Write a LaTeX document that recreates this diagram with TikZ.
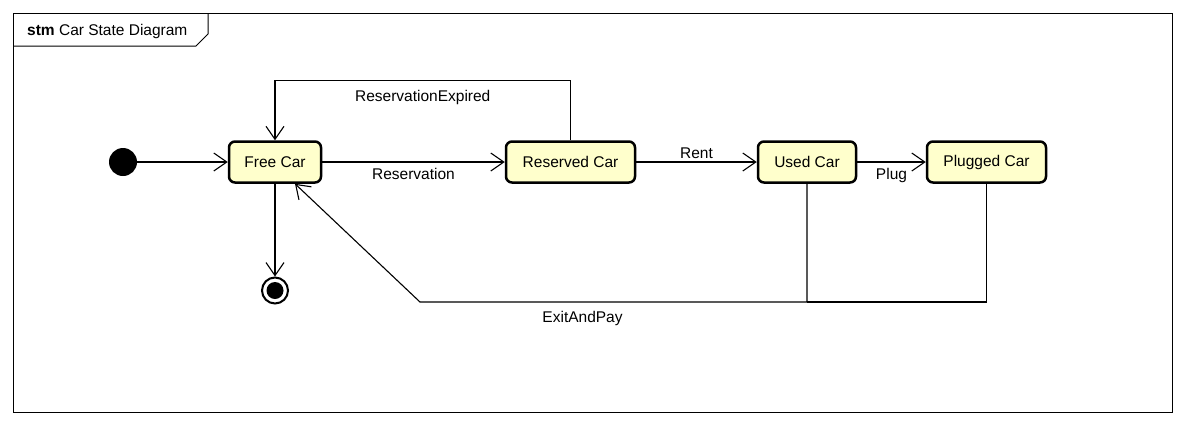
\documentclass[tikz,border=0pt]{standalone}
\usepackage{fontspec}
\setmainfont{Liberation Sans}
\usepackage{xcolor}
\usetikzlibrary{positioning,arrows.meta}

\definecolor{stateyellow}{HTML}{FFFFCC}
\newcommand{\stmfont}{\fontsize{15.5bp}{18bp}\selectfont}

\tikzset{
    state/.style={draw, line width=2.5bp, rounded corners=6bp, fill=stateyellow,
        minimum height=41bp, inner sep=0pt, font=\stmfont},
    trans/.style={-{Straight Barb[length=13bp,width=18bp]}, line width=1.1bp},
    tlabel/.style={font=\stmfont, inner sep=3bp},
}

\begin{document}
\begin{tikzpicture}[x=1bp,y=-1bp]
    \useasboundingbox (0,0) rectangle (1185,425);

    % Frame
    \draw[line width=1bp] (13,13) rectangle (1172,412);
    \draw[line width=1bp] (13,46) -- (196,46) -- (208,34) -- (208,13);
    \node[anchor=west, font=\stmfont, inner sep=0pt] (title) at (27,31) {\textbf{stm} Car State Diagram};

    % States
    \node[circle, fill=black, minimum size=28bp, inner sep=0pt] (init) at (123,162) {};
    \node[state, minimum width=92bp] (free) at (275,162) {Free Car};
    \node[state, minimum width=129bp] (reserved) at (570.5,162) {Reserved Car};
    \node[state, minimum width=98bp] (used) at (807,162) {Used Car};
    \node[state, minimum width=119bp] (plugged) at (986.5,162) {Plugged Car};
    \node[circle, draw, line width=2bp, minimum size=26bp, inner sep=0pt] (final) at (275,290.5) {};
    \fill (final.center) circle (8.5bp);

    % Transitions
    \draw[trans] (init) -- (free);
    \draw[trans] (free) -- node[tlabel, below, yshift=-3bp] {Reservation} (reserved);
    \draw[trans] (reserved) -- node[tlabel, above] {Rent} (used);
    \draw[trans] (used) -- node[tlabel, below, yshift=-3bp] {Plug} (plugged);
    \draw[trans] (reserved.north) -- ++(0,-60) -| node[tlabel, pos=0.25, below, yshift=-6bp] {ReservationExpired} (free.north);
    \draw[trans] (free) -- (final);

    % ExitAndPay
    \coordinate (exitbend) at (420,302);
    \draw[trans] (used.south) |- node[tlabel, pos=0.79, below, yshift=-6bp] {ExitAndPay} (exitbend) -- ([xshift=20bp]free.south);
    \draw[line width=1.1bp] (plugged.south) |- (used.south |- exitbend);
\end{tikzpicture}
\end{document}
